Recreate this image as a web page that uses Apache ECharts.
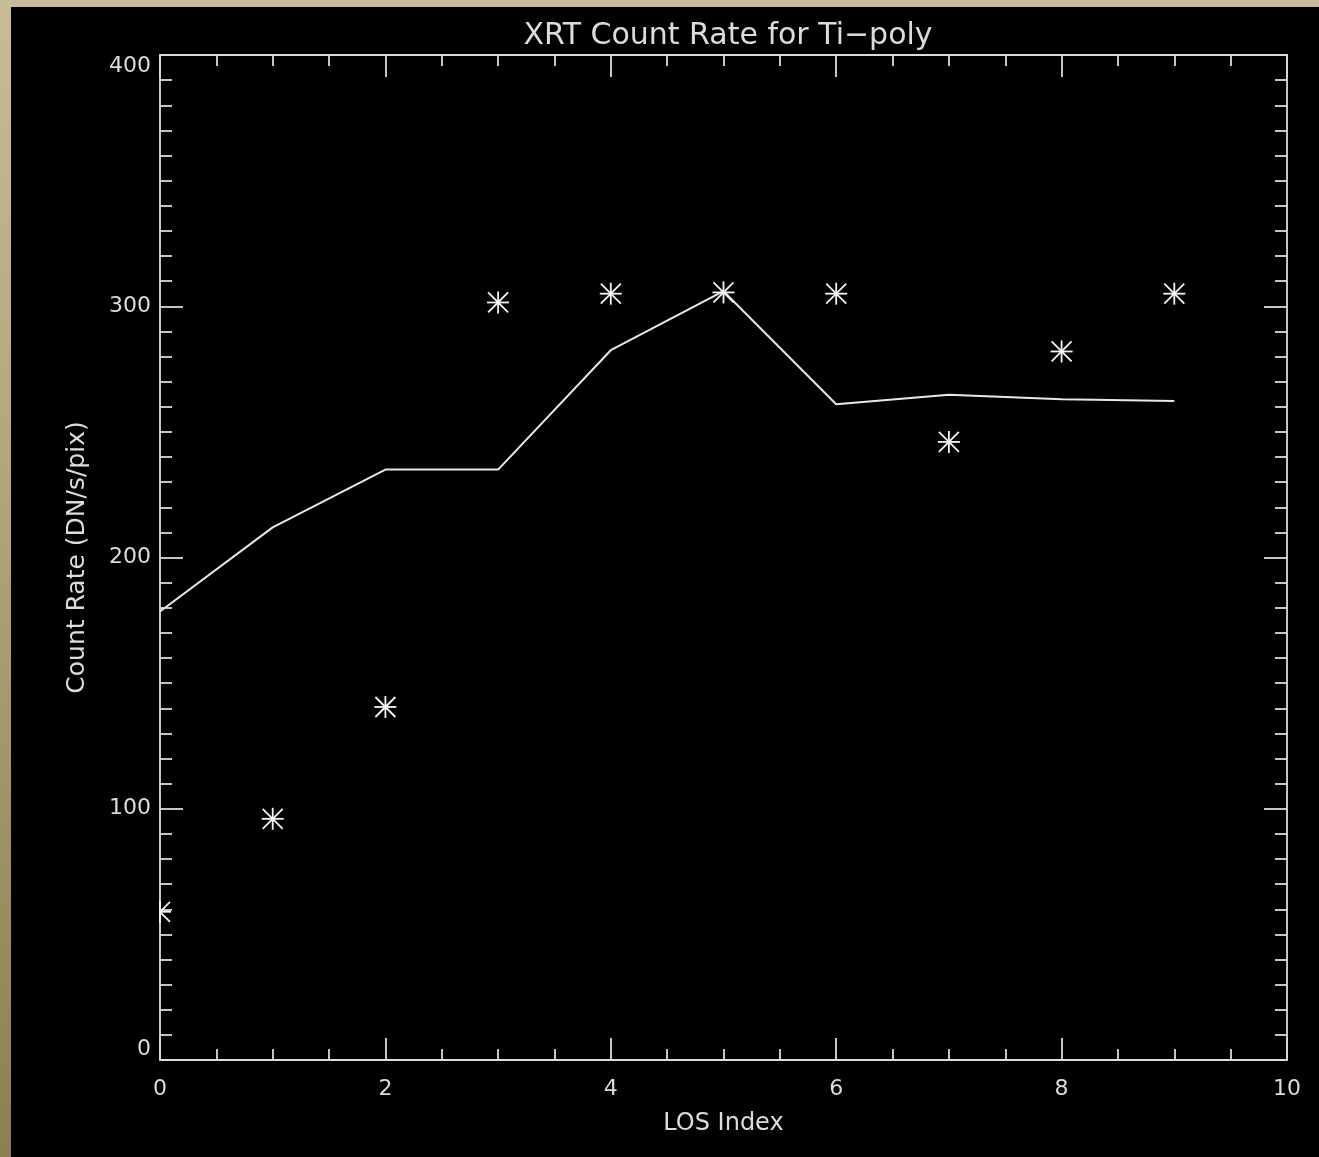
<!DOCTYPE html>
<html>
<head>
<meta charset="utf-8">
<script src="https://cdn.jsdelivr.net/npm/echarts@6/dist/echarts.min.js"></script>
<style>
html,body{margin:0;padding:0;width:1319px;height:1157px;overflow:hidden;
  background:linear-gradient(to bottom,#c7bc97 0%,#b3a67c 40%,#8d7f54 100%);}
#chart{position:absolute;left:11px;top:7px;width:1308px;height:1150px;background:#000;}
</style>
</head>
<body>
<div id="chart"></div>
<script>
// LOS index positions
var losIndex = [0, 1, 2, 3, 4, 5, 6, 7, 8, 9];
// observed count rates (asterisks)
var observed = [59, 96, 140.5, 301.5, 305, 305.5, 305, 246, 282, 305];
// modelled count rates (solid line)
var model = [178.5, 212, 235, 235, 282.5, 306, 261, 264.8, 263, 262.3];
var xTicks = [0, 2, 4, 6, 8, 10];
var yTicks = [0, 100, 200, 300, 400];

var fg = '#dcdcdc';
var font = 'DejaVu Sans';

var chart = echarts.init(document.getElementById('chart'), null, {renderer:'canvas'});

function axisCommon(extra){
  return Object.assign({
    type:'value',
    axisLine:{show:true, onZero:false, lineStyle:{color:fg, width:1.8}},
    splitLine:{show:false},
    minorSplitLine:{show:false}
  }, extra);
}

var option = {
  animation:false,
  backgroundColor:'transparent',
  title:{
    text:'XRT Count Rate for Ti\u2212poly',
    left:712, top:9, textAlign:'center',
    textStyle:{color:fg, fontFamily:font, fontSize:30, fontWeight:'normal'}
  },
  grid:{left:149, top:48, right:32, bottom:97, containLabel:false},
  xAxis:[
    axisCommon({
      position:'bottom', min:xTicks[0], max:xTicks[xTicks.length-1], interval:2,
      axisTick:{show:true, inside:true, length:22, lineStyle:{color:fg, width:1.8}},
      minorTick:{show:true, splitNumber:4, length:11, lineStyle:{color:fg, width:1.8}},
      axisLabel:{color:fg, fontFamily:font, fontSize:22, margin:18},
      name:'LOS Index', nameLocation:'middle', nameGap:52,
      nameTextStyle:{color:fg, fontFamily:font, fontSize:24}
    }),
    axisCommon({
      position:'top', min:xTicks[0], max:xTicks[xTicks.length-1], interval:2,
      axisTick:{show:true, inside:true, length:22, lineStyle:{color:fg, width:1.8}},
      minorTick:{show:true, splitNumber:4, length:11, lineStyle:{color:fg, width:1.8}},
      axisLabel:{show:false}
    })
  ],
  yAxis:[
    axisCommon({
      position:'left', min:yTicks[0], max:yTicks[yTicks.length-1], interval:100,
      axisTick:{show:true, inside:true, length:23, lineStyle:{color:fg, width:1.8}},
      minorTick:{show:true, splitNumber:10, length:12, lineStyle:{color:fg, width:1.8}},
      axisLabel:{color:fg, fontFamily:font, fontSize:22, margin:9,
        verticalAlignMinLabel:'bottom', verticalAlignMaxLabel:'top'},
      name:'Count Rate (DN/s/pix)', nameLocation:'middle', nameGap:70,
      nameTextStyle:{color:fg, fontFamily:font, fontSize:25}
    }),
    axisCommon({
      position:'right', min:yTicks[0], max:yTicks[yTicks.length-1], interval:100,
      axisTick:{show:true, inside:true, length:23, lineStyle:{color:fg, width:1.8}},
      minorTick:{show:true, splitNumber:10, length:12, lineStyle:{color:fg, width:1.8}},
      axisLabel:{show:false}
    })
  ],
  series:[
    {
      type:'line',
      data:losIndex.map(function(x,i){return [x, model[i]];}),
      showSymbol:false, symbol:'none',
      lineStyle:{color:'#e8e8e8', width:2},
      z:3
    },
    {
      type:'custom',
      data:losIndex.map(function(x,i){return [x, observed[i]];}),
      z:4,
      renderItem:function(params, api){
        var c = api.coord([api.value(0), api.value(1)]);
        var left = params.coordSys.x;
        var arms = [[11,0],[0,11],[10,10],[10,-10]];
        var children = [];
        arms.forEach(function(a){
          var x1=c[0]-a[0], y1=c[1]-a[1], x2=c[0]+a[0], y2=c[1]+a[1];
          if (x1 < left && x2 < left) return;
          if (x1 < left){ var t=(left-x1)/(x2-x1); y1=y1+(y2-y1)*t; x1=left; }
          if (x2 < left){ var t2=(left-x2)/(x1-x2); y2=y2+(y1-y2)*t2; x2=left; }
          children.push({type:'line', shape:{x1:x1,y1:y1,x2:x2,y2:y2},
            style:{stroke:'#f4f4f4', lineWidth:1.8}});
        });
        return {type:'group', children:children};
      }
    }
  ]
};
chart.setOption(option);
</script>
</body>
</html>
